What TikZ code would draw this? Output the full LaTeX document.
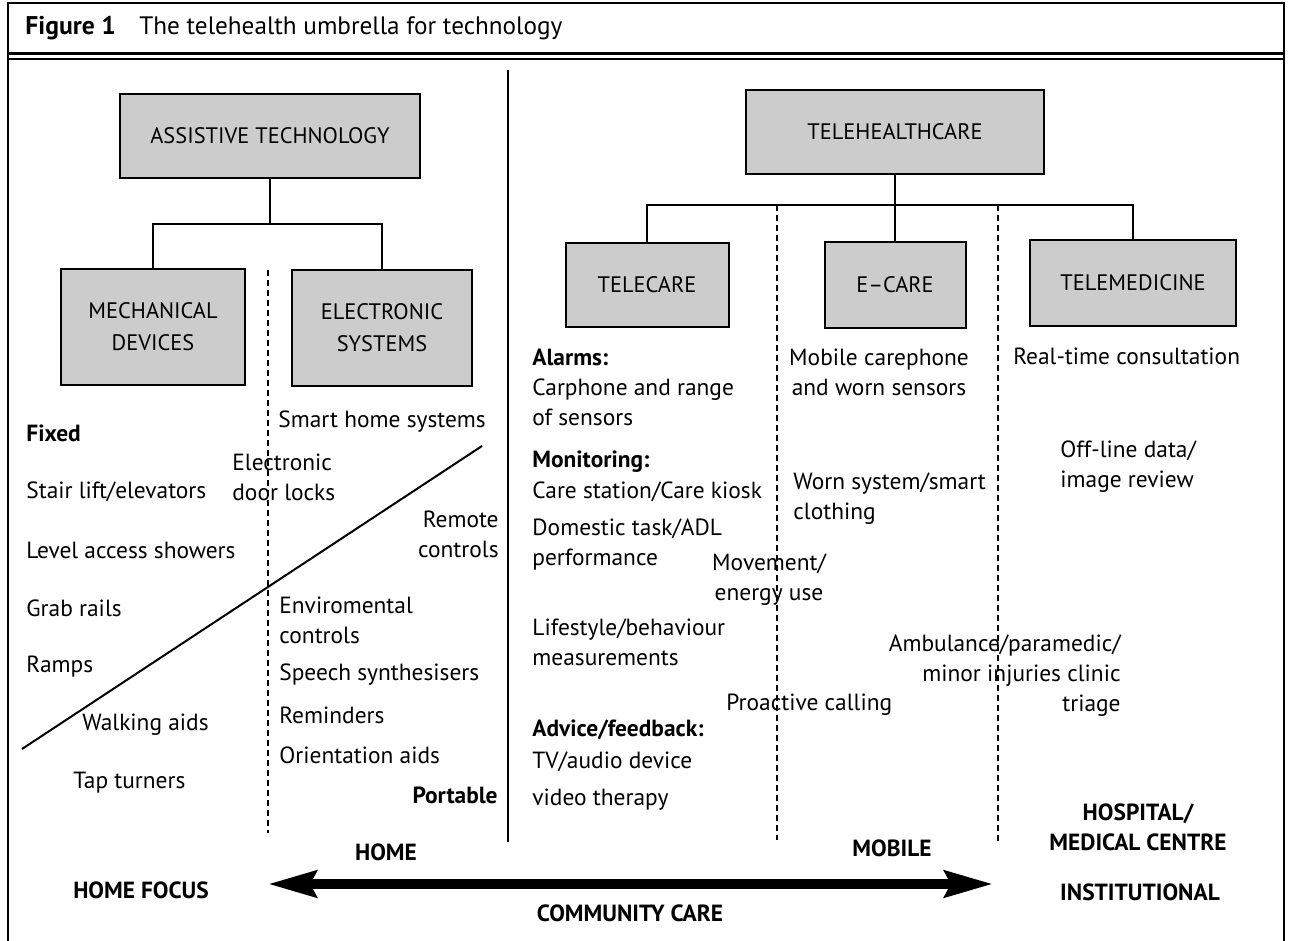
\documentclass[tikz,border=0pt]{standalone}
\usepackage{fontspec}
\setmainfont{PT Sans}
\usetikzlibrary{arrows.meta}

\definecolor{boxgray}{RGB}{204,204,204}

\tikzset{
  catbox/.style={draw, line width=1pt, fill=boxgray, align=center, inner sep=0pt,
    font=\fontsize{11.2}{16}\selectfont},
  item/.style={inner sep=0pt, align=left, font=\fontsize{11.7}{15}\selectfont},
  itemb/.style={item, font=\fontsize{11.7}{15}\selectfont\bfseries},
  link/.style={line width=1pt},
  divider/.style={line width=0.8pt, dash pattern=on 3pt off 2pt},
}

\begin{document}
\begin{tikzpicture}[x=0.5pt, y=-0.5pt]
  \useasboundingbox (0,0) rectangle (1289,941);

  % frame and title
  \draw[line width=1pt] (8,941) -- (8,3) -- (1284,3) -- (1284,941);
  \node[anchor=west, inner sep=0pt, font=\fontsize{12.8}{14}\selectfont\bfseries] (fig) at (25,28) {Figure 1};
  \node[anchor=west, inner sep=0pt, font=\fontsize{12.6}{14}\selectfont] (caption) at (139,28) {The telehealth umbrella for technology};
  \draw[line width=1.8pt] (8,53.5) -- (1284,53.5);
  \draw[line width=1pt] (8,59.5) -- (1284,59.5);

  % assistive technology side
  \node[catbox, minimum width=150pt, minimum height=42pt] (assist) at (270,136) {ASSISTIVE TECHNOLOGY};
  \node[catbox, minimum width=92pt, minimum height=58pt] (mech) at (153,327) {MECHANICAL\\DEVICES};
  \node[catbox, minimum width=90pt, minimum height=58pt] (elec) at (382,328) {ELECTRONIC\\SYSTEMS};
  \draw[link] (assist.south) -- ++(0,45) coordinate (aj) -| (mech.north);
  \draw[link] (aj) -| (elec.north);

  % telehealthcare side
  \node[catbox, minimum width=149pt, minimum height=42pt] (tele) at (895,132) {TELEHEALTHCARE};
  \node[catbox, minimum width=81.5pt, minimum height=42pt] (telecare) at (647,285) {TELECARE};
  \node[catbox, minimum width=70.5pt, minimum height=42.5pt] (ecare) at (895,285) {E--CARE};
  \node[catbox, minimum width=103pt, minimum height=42.5pt] (telemed) at (1133,283) {TELEMEDICINE};
  \draw[link] (tele.south) -- ++(0,30) coordinate (tj) -| (telecare.north);
  \draw[link] (tj) -- (ecare.north);
  \draw[link] (tj) -| (telemed.north);

  % dividers
  \draw[line width=1pt] (508,70) -- (508,842);
  \draw[divider] (268,270) -- (268,833);
  \draw[divider] (777,205) -- (777,840);
  \draw[divider] (998,205) -- (998,842);
  \draw[line width=1pt] (22,749) -- (482,446);

  % fixed / portable devices
  \node[itemb, anchor=west] (fixed) at (26,433) {Fixed};
  \node[item, anchor=west] (stair) at (26,492) {Stair lift/elevators};
  \node[item, anchor=west] (level) at (26,550) {Level access showers};
  \node[item, anchor=west] (grab) at (26,608) {Grab rails};
  \node[item, anchor=west] (ramps) at (26,667) {Ramps};
  \node[item, anchor=west] (walk) at (82,725) {Walking aids};
  \node[item, anchor=west] (tap) at (73,783) {Tap turners};
  \node[item, anchor=west] (locks) at (232,477) {Electronic\\door locks};
  \node[item, anchor=west] (smart) at (278,422) {Smart home systems};
  \node[item, anchor=east, align=right] (remote) at (499,534) {Remote\\controls};
  \node[item, anchor=west] (env) at (279,620) {Enviromental\\controls};
  \node[item, anchor=west] (speech) at (279,675) {Speech synthesisers};
  \node[item, anchor=west] (remind) at (279,715) {Reminders};
  \node[item, anchor=west] (orient) at (279,755) {Orientation aids};
  \node[itemb, anchor=east] (portable) at (498,795) {Portable};

  % telecare column
  \node[itemb, anchor=west] (alarms) at (532,357) {Alarms:};
  \node[item, anchor=west] (carphone) at (532,402) {Carphone and range\\of sensors};
  \node[itemb, anchor=west] (monit) at (532,462) {Monitoring:};
  \node[item, anchor=west] (station) at (532,492) {Care station/Care kiosk};
  \node[item, anchor=west] (domestic) at (532,545) {Domestic task/ADL\\performance};
  \node[item, anchor=west] (life) at (532,642) {Lifestyle/behaviour\\measurements};
  \node[itemb, anchor=west] (advice) at (532,730) {Advice/feedback:};
  \node[item, anchor=west] (tv) at (532,762) {TV/audio device};
  \node[item, anchor=west] (video) at (532,800) {video therapy};
  \node[item, align=center] (movement) at (769,580) {Movement/\\energy use};
  \node[item, anchor=west] (proactive) at (726,705) {Proactive calling};

  % e-care and telemedicine columns
  \node[item, align=center] (mobilephone) at (879,372) {Mobile carephone\\and worn sensors};
  \node[item, anchor=west] (worn) at (793,499) {Worn system/smart\\clothing};
  \node[item, anchor=west] (realtime) at (1013,356) {Real-time consultation};
  \node[item, anchor=west] (offline) at (1060,467) {Off-line data/\\image review};
  \node[item, anchor=east, align=right] (ambulance) at (1121,676) {Ambulance/paramedic/\\minor injuries clinic\\triage};

  % care settings scale
  \coordinate (homeend) at (268,884);
  \coordinate (instend) at (993,884);
  \draw[line width=5pt, {Stealth[length=24pt, width=13pt, inset=3pt]}-{Stealth[length=24pt, width=13pt, inset=3pt]}] (homeend) -- (instend);
  \node[itemb] (home) at (386,852) {HOME};
  \node[itemb] (mobile) at (892,848) {MOBILE};
  \node[itemb, align=center] (hospital) at (1138,827) {HOSPITAL/\\MEDICAL CENTRE};
  \node[itemb] (homefocus) at (141,890) {HOME FOCUS};
  \node[itemb] (institut) at (1140,892) {INSTITUTIONAL};
  \node[itemb] (community) at (630,913) {COMMUNITY CARE};
\end{tikzpicture}
\end{document}
